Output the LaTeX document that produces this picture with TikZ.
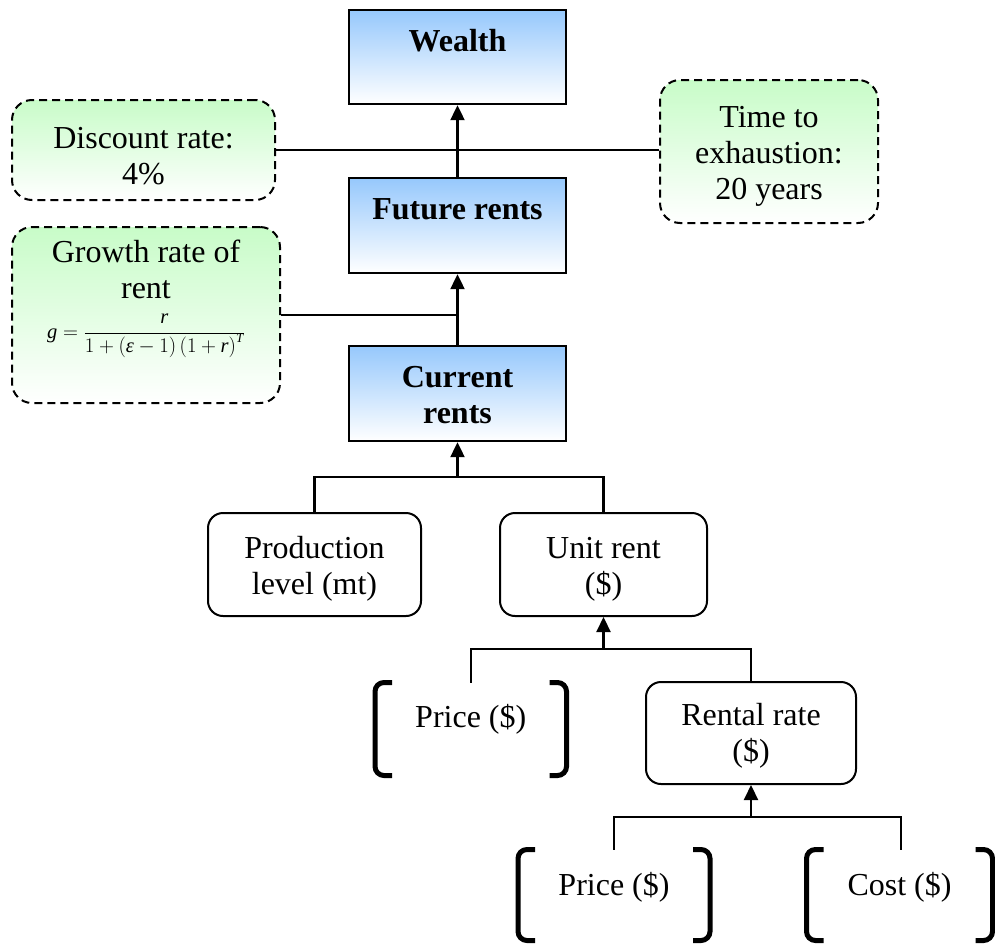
\documentclass[tikz,border=0pt]{standalone}
\usepackage{fontspec}
\setmainfont{Liberation Serif}
\usetikzlibrary{arrows.meta}
\definecolor{skyblue}{RGB}{150,200,252}
\definecolor{mint}{RGB}{200,252,200}
% italic letters of the formula in the text face
\newcommand\itv[1]{\hbox{\itshape #1}}
\begin{document}
\begin{tikzpicture}[x=1pt,y=-1pt,
  every node/.style={font=\fontsize{32}{36}\selectfont, align=center, inner sep=0pt},
  bluebox/.style={draw, line width=2.4pt, top color=skyblue, bottom color=white,
    minimum width=217, font=\fontsize{32}{36}\selectfont\bfseries},
  greenbox/.style={draw, line width=2pt, dash pattern=on 8pt off 5pt,
    rounded corners=20, top color=mint, bottom color=white},
  whitebox/.style={draw, line width=2pt, rounded corners=15, fill=white},
  brk/.style={outer sep=4pt,
    append after command={\pgfextra{\let\brknode\tikzlastnode
      \draw[line width=5pt, rounded corners=9]
        ([xshift=17]\brknode.north west) -- (\brknode.north west)
          -- (\brknode.south west) -- ([xshift=17]\brknode.south west)
        ([xshift=-17]\brknode.north east) -- (\brknode.north east)
          -- (\brknode.south east) -- ([xshift=-17]\brknode.south east);}}},
  link/.style={line width=2.2pt},
  arr/.style={line width=2.2pt, -{Triangle[length=15pt,width=14pt]}}]
\useasboundingbox (0,0) rectangle (995,945);
\clip (0,0) rectangle (995,945);

% value chain of the resource
\node[bluebox, text height=41, text depth=53] (wealth) at (457.5,57) {Wealth};
\node[bluebox, text height=41, text depth=54] (future) at (457.5,225.5) {Future rents};
\node[bluebox, text height=77, text depth=18] (current) at (457.5,393.5) {Current\\rents};

% assumptions
\node[greenbox, minimum width=263, text height=84, text depth=16] (disc) at (143.5,150) {Discount rate:\\4\%};
\node[greenbox, minimum width=218, text height=119, text depth=24] (time) at (769,151.5) {Time to\\exhaustion:\\20 years};
\node[greenbox, minimum width=268, text height=111, text depth=65] (growth) at (146,315)
  {Growth rate of\\rent\\[4pt]{\fontsize{20.5}{24}\selectfont$\displaystyle
   \itv{g}=\frac{\itv{r}}{1+\left(\itv{ε}-1\right)\left(1+\itv{r}\right)^{\hbox{\fontsize{13}{13}\selectfont\itshape T}}}$}};

% drivers of current rents
\node[whitebox, minimum width=213, text height=81, text depth=22] (prod) at (314.5,564.5) {Production\\level (mt)};
\node[whitebox, minimum width=207, text height=81, text depth=22] (unit) at (603.5,564.5) {Unit rent\\(\$)};
\node[brk, minimum width=183.5, text height=40.5, text depth=44.5] (price1) at (470.75,729) {Price (\$)};
\node[whitebox, minimum width=210, text height=79, text depth=23] (rental) at (751,733) {Rental rate\\(\$)};
\node[brk, minimum width=184, text height=41.5, text depth=41.5] (price2) at (614,895) {Price (\$)};
\node[brk, minimum width=178, text height=41.5, text depth=41.5] (cost) at (899.5,895) {Cost (\$)};

\coordinate (j1) at (457.5,477);
\coordinate (j2) at (603.5,649);
\coordinate (j3) at (751,817);

% connectors
\draw[arr] (future.north) -- (wealth.south);
\draw[arr] (current.north) -- (future.south);
\draw[link] (disc.east) -- (disc.east -| time.west);
\draw[link] (growth.east) -- (growth.east -| current.north);

\draw[link] (prod.north) |- (j1) -| (unit.north);
\draw[arr] (j1) -- (current.south);
\draw[link] (price1.north) |- (j2) -| (rental.north);
\draw[arr] (j2) -- (unit.south);
\draw[link] (price2.north) |- (j3) -| ([xshift=1.5]cost.north);
\draw[arr] (j3) -- (rental.south);
\end{tikzpicture}
\end{document}
